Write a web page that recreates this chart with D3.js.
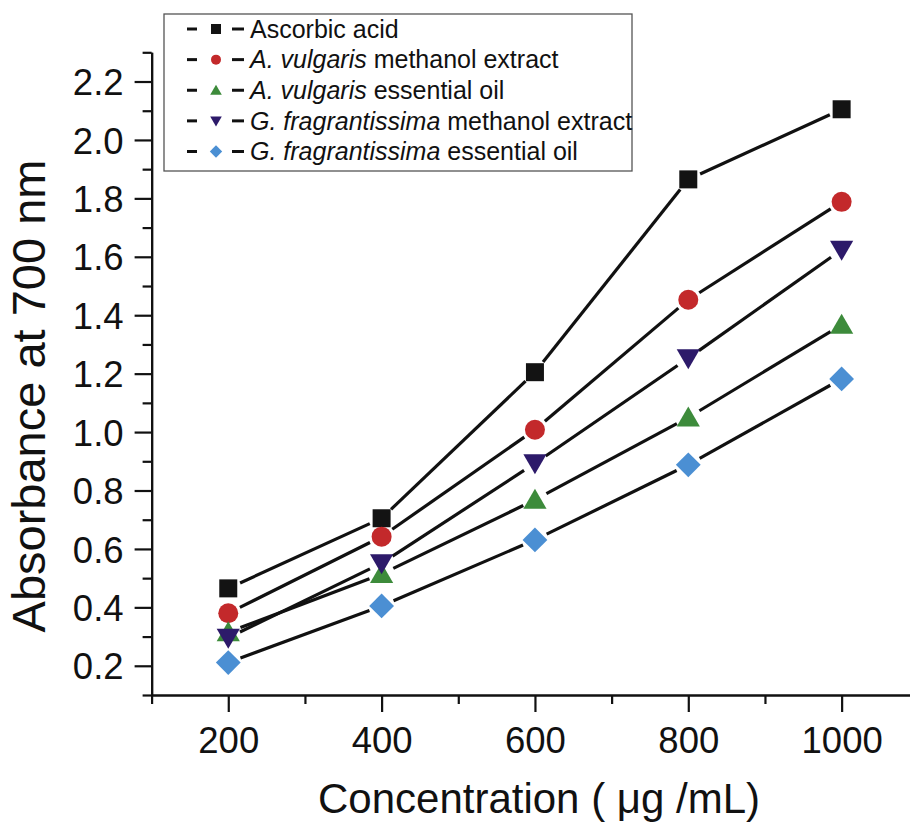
<!DOCTYPE html>
<html><head><meta charset="utf-8">
<script src="https://cdn.jsdelivr.net/npm/d3@7"></script>
<style>
html,body{margin:0;padding:0;background:#fff;}
svg{display:block;font-family:"Liberation Sans",Arial,sans-serif;}
</style></head>
<body>
<svg id="chart" width="910" height="829"></svg>
<script>
const concentrations = [200, 400, 600, 800, 1000];
const ascorbicAcid = [0.465, 0.705, 1.205, 1.865, 2.105];
const avMethanol = [0.38, 0.642, 1.008, 1.453, 1.788];
const avOil = [0.315, 0.514, 0.768, 1.05, 1.367];
const gfMethanol = [0.296, 0.551, 0.893, 1.253, 1.624];
const gfOil = [0.211, 0.405, 0.631, 0.888, 1.182];
const yMajorTicks = [0.2, 0.4, 0.6, 0.8, 1.0, 1.2, 1.4, 1.6, 1.8, 2.0, 2.2];
const yMinorTicks = [0.1, 0.3, 0.5, 0.7, 0.9, 1.1, 1.3, 1.5, 1.7, 1.9, 2.1, 2.3];
const xMajorTicks = [200, 400, 600, 800, 1000];
const xMinorTicks = [100, 300, 500, 700, 900, 1100];

const series = [
  {name: [["Ascorbic acid", false]], values: ascorbicAcid, shape: "square", color: "#131313"},
  {name: [["A. vulgaris", true], [" methanol extract", false]], values: avMethanol, shape: "circle", color: "#c3292b"},
  {name: [["A. vulgaris", true], [" essential oil", false]], values: avOil, shape: "triangle", color: "#3d8b3b"},
  {name: [["G. fragrantissima", true], [" methanol extract", false]], values: gfMethanol, shape: "triangleDown", color: "#2d1a6a"},
  {name: [["G. fragrantissima", true], [" essential oil", false]], values: gfOil, shape: "diamond", color: "#4b8fd3"}
];

const svg = d3.select("#chart");
const x = d3.scaleLinear().domain([100, 1100]).range([151.6, 918.3]);
const y = d3.scaleLinear().domain([0.1, 2.3]).range([695, 52.3]);

function markerPath(shape, s) {
  const h = s / 2;
  switch (shape) {
    case "square": return `M${-h},${-h}H${h}V${h}H${-h}Z`;
    case "circle": return d3.symbol(d3.symbolCircle, Math.PI * h * h)();
    case "triangle": { const w = s * 0.58, t = s * 0.55, b = s * 0.45; return `M0,${-t}L${w},${b}L${-w},${b}Z`; }
    case "triangleDown": { const w = s * 0.58, t = s * 0.55, b = s * 0.45; return `M0,${t}L${w},${-b}L${-w},${-b}Z`; }
    case "diamond": { const d = s * 0.62; return `M0,${-d}L${d},0L0,${d}L${-d},0Z`; }
  }
}
const markerSize = {square: 18, circle: 20, triangle: 20, triangleDown: 20, diamond: 20};

const axisStyle = g => {
  g.selectAll("path.domain").attr("stroke", "#111").attr("stroke-width", 2.2);
  g.selectAll(".tick line").attr("stroke", "#111").attr("stroke-width", 2.2);
};
const yMinor = svg.append("g").attr("transform", `translate(${x(100)},0)`)
  .call(d3.axisLeft(y).tickValues(yMinorTicks).tickSize(9).tickSizeOuter(0).tickFormat(""));
axisStyle(yMinor);
const yMajor = svg.append("g").attr("transform", `translate(${x(100)},0)`)
  .call(d3.axisLeft(y).tickValues(yMajorTicks).tickSize(17).tickSizeOuter(0).tickPadding(11).tickFormat(d3.format(".1f")));
axisStyle(yMajor);
yMajor.selectAll(".tick text").attr("font-size", 36.5).attr("fill", "#111")
  .attr("font-family", "Liberation Sans, Arial, sans-serif").attr("dy", "0.36em");

const xMinor = svg.append("g").attr("transform", `translate(0,${y(0.1)})`)
  .call(d3.axisBottom(x).tickValues(xMinorTicks).tickSize(9).tickSizeOuter(0).tickFormat(""));
axisStyle(xMinor);
const xMajor = svg.append("g").attr("transform", `translate(0,${y(0.1)})`)
  .call(d3.axisBottom(x).tickValues(xMajorTicks).tickSize(17).tickSizeOuter(0).tickPadding(15).tickFormat(d3.format("d")));
axisStyle(xMajor);
xMajor.selectAll(".tick text").attr("font-size", 36.5).attr("fill", "#111")
  .attr("font-family", "Liberation Sans, Arial, sans-serif").attr("dy", "0.72em");

svg.append("text").attr("transform", `translate(45,396) rotate(-90)`)
  .attr("text-anchor", "middle").attr("font-size", 47).attr("fill", "#111")
  .text("Absorbance at 700 nm");
svg.append("text").attr("x", 539).attr("y", 813)
  .attr("text-anchor", "middle").attr("font-size", 42).attr("fill", "#111")
  .text("Concentration ( \u03bcg /mL)");

const gap = 13;
series.forEach(s => {
  const pts = concentrations.map((c, i) => [x(c), y(s.values[i])]);
  const g = svg.append("g");
  for (let i = 0; i < pts.length - 1; i++) {
    const [x1, y1] = pts[i], [x2, y2] = pts[i + 1];
    const L = Math.hypot(x2 - x1, y2 - y1), ux = (x2 - x1) / L, uy = (y2 - y1) / L;
    g.append("line")
      .attr("x1", x1 + ux * gap).attr("y1", y1 + uy * gap)
      .attr("x2", x2 - ux * gap).attr("y2", y2 - uy * gap)
      .attr("stroke", "#111").attr("stroke-width", 3.2).attr("stroke-linecap", "butt");
  }
});
series.forEach(s => {
  svg.append("g").selectAll("path").data(concentrations.map((c, i) => [c, s.values[i]]))
    .join("path")
    .attr("transform", d => `translate(${x(d[0])},${y(d[1])})`)
    .attr("d", markerPath(s.shape, markerSize[s.shape]))
    .attr("fill", s.color);
});

const lg = svg.append("g");
lg.append("rect").attr("x", 164).attr("y", 14).attr("width", 468).attr("height", 157)
  .attr("fill", "#fff").attr("stroke", "#555").attr("stroke-width", 1.3);
const rowY = d3.scaleLinear().domain([0, 4]).range([29, 151.5]);
series.forEach((s, i) => {
  const cy = rowY(i);
  lg.append("line").attr("x1", 187).attr("x2", 197).attr("y1", cy).attr("y2", cy)
    .attr("stroke", "#111").attr("stroke-width", 3);
  lg.append("line").attr("x1", 232).attr("x2", 244).attr("y1", cy).attr("y2", cy)
    .attr("stroke", "#111").attr("stroke-width", 3);
  lg.append("path").attr("transform", `translate(216,${cy})`)
    .attr("d", markerPath(s.shape, 10)).attr("fill", s.color);
  const t = lg.append("text").attr("x", 250).attr("y", cy).attr("dy", "0.35em")
    .attr("font-size", 25).attr("fill", "#111");
  s.name.forEach(([txt, it]) => t.append("tspan").attr("font-style", it ? "italic" : "normal").text(txt));
});
</script>
</body></html>
